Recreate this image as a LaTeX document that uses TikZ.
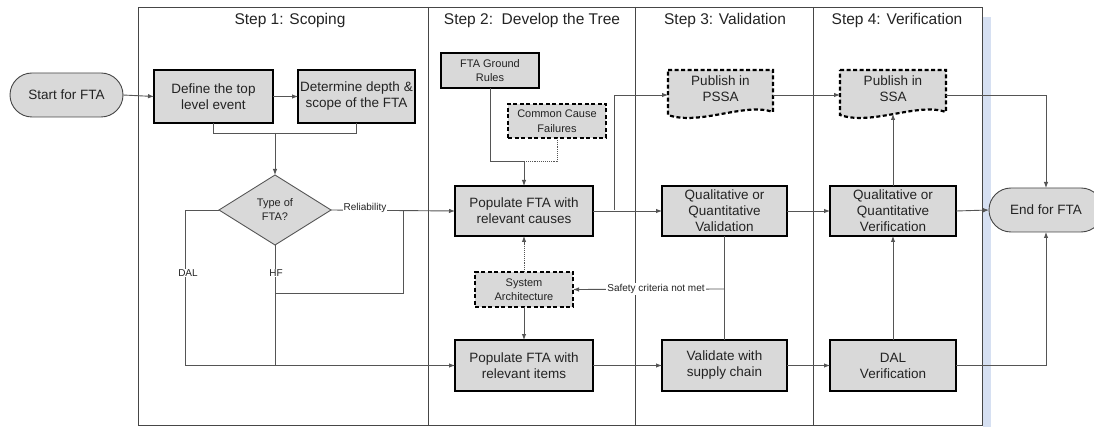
\documentclass[tikz,border=0pt]{standalone}
\usepackage{fontspec}
\setmainfont{Liberation Sans}
\usetikzlibrary{arrows.meta,shapes.geometric,shapes.misc,backgrounds}
\definecolor{boxgray}{RGB}{217,217,217}
\definecolor{lgray}{RGB}{85,85,85}
\definecolor{framegray}{RGB}{70,70,70}
\definecolor{txt}{RGB}{35,35,35}
\definecolor{stripblue}{RGB}{214,224,242}
\begin{document}
\begin{tikzpicture}[x=1pt,y=-1pt,
  box/.style={draw=black, line width=2.2pt, fill=boxgray, align=center, inner sep=0pt, outer sep=0pt, text=txt, font=\fontsize{13.5}{16}\selectfont},
  sbox/.style={box, font=\fontsize{11}{14.5}\selectfont},
  dbox/.style={sbox, dash pattern=on 4pt off 2.5pt},
  doctext/.style={draw=none, fill=none, align=center, inner sep=0pt, outer sep=0pt, text=txt, font=\fontsize{13.5}{16}\selectfont},
  docline/.style={draw=black, line width=2.2pt, fill=boxgray, dash pattern=on 4pt off 2.5pt},
  term/.style={rounded rectangle, draw=framegray, line width=0.9pt, fill=boxgray, inner sep=0pt, outer sep=0pt, minimum height=44pt, text=txt, font=\fontsize{13.5}{16}\selectfont},
  diam/.style={diamond, draw=lgray, line width=0.9pt, fill=boxgray, inner sep=0pt, outer sep=0pt, minimum width=112pt, minimum height=70pt, align=center, text=txt, font=\fontsize{11}{14}\selectfont},
  ln/.style={draw=lgray, line width=0.9pt},
  arr/.style={ln, -{Latex[length=6pt,width=4.5pt]}},
  lbl/.style={fill=white, inner sep=1pt, text=txt, font=\fontsize{10}{12}\selectfont},
  steptitle/.style={text=txt, inner sep=0pt, font=\fontsize{15.5}{18}\selectfont}
]
\clip (0,0) rectangle (1094,427);
% shadow strip and frame
\fill[stripblue] (983,17) rectangle (991,427);
\draw[framegray, line width=0.9pt] (138,7) rectangle (982,425);
\draw[framegray, line width=0.9pt] (428,7) -- (428,425);
\draw[framegray, line width=0.9pt] (635,7) -- (635,425);
\draw[framegray, line width=0.9pt] (813,7) -- (813,425);
% titles
\node[steptitle] (t1) at (290,20) {Step 1: Scoping};
\node[steptitle] (t2) at (532,20) {Step 2:\ \ Develop the Tree};
\node[steptitle] (t3) at (725,20) {Step 3: Validation};
\node[steptitle] (t4) at (897,20) {Step 4: Verification};
% nodes
\node[term, minimum width=113pt] (start) at (66.5,95) {Start for FTA};
\node[box, minimum width=119pt, minimum height=53pt] (define) at (213.5,96.5) {Define the top\\level event};
\node[box, minimum width=117pt, minimum height=53pt] (determine) at (356.5,96.5) {Determine depth \&\\scope of the FTA};
\node[diam] (type) at (275,210) {Type of\\FTA?};
\node[sbox, minimum width=98pt, minimum height=35pt] (gr) at (490,70.5) {FTA Ground\\Rules};
\node[dbox, minimum width=98pt, minimum height=34pt] (ccf) at (557,121) {Common Cause\\Failures};
\node[box, minimum width=138pt, minimum height=50pt] (popcauses) at (524,211) {Populate FTA with\\relevant causes};
\node[dbox, minimum width=98pt, minimum height=35pt] (sys) at (524,289.5) {System\\Architecture};
\node[box, minimum width=138pt, minimum height=51pt] (popitems) at (524,365.5) {Populate FTA with\\relevant items};
\node[doctext, minimum width=105pt, minimum height=38pt] (pssa) at (720.5,89) {Publish in\\PSSA};
\node[box, minimum width=125pt, minimum height=50pt] (qualval) at (724.5,211) {Qualitative or\\Quantitative\\Validation};
\node[box, minimum width=125pt, minimum height=51pt] (validate) at (724.5,365.5) {Validate with\\supply chain};
\node[doctext, minimum width=106pt, minimum height=38pt] (ssa) at (893,89) {Publish in\\SSA};
\node[box, minimum width=126pt, minimum height=50pt] (qualver) at (893,211) {Qualitative or\\Quantitative\\Verification};
\node[box, minimum width=126pt, minimum height=51pt] (dalver) at (893,365.5) {DAL\\Verification};
\node[term, minimum width=114pt] (end) at (1046,210) {End for FTA};
% document outlines
\begin{scope}[on background layer]
\draw[docline] (pssa.north west) -- (pssa.north east) -- ([yshift=-4pt]pssa.south east)
  .. controls +(-28,-10) and +(32,11) .. ([yshift=-7pt]pssa.south west) -- cycle;
\draw[docline] (ssa.north west) -- (ssa.north east) -- ([yshift=-4pt]ssa.south east)
  .. controls +(-28,-10) and +(32,11) .. ([yshift=-7pt]ssa.south west) -- cycle;
\end{scope}
% coordinates
\coordinate (j1) at (275,133);
\coordinate (j2) at (524,161);
\coordinate (j3) at (724.5,289);
\coordinate (jr) at (403,210);
\coordinate (jh) at (275,293);
\coordinate (jp) at (614,210);
\coordinate (ssab) at (893,114);
% connectors
\draw[arr] (start.east) -- (define.west);
\draw[arr] (define.east) -- (determine.west);
\draw[ln] (define.south) -- ++(0,10) -| (determine.south);
\draw[arr] (j1) -- (type.north);
\draw[arr] (type.east) -- (popcauses.west);
\draw[ln] (type.south) -- (type.south |- popitems.west);
\draw[ln] (jh) -| (jr);
\draw[arr] (type.west) -- (185,210) -- (185,365.5) -- (popitems.west);
\draw[ln] (gr.south) |- (j2);
\draw[ln, densely dotted] (ccf.south) |- (j2);
\draw[arr] (j2) -- (popcauses.north);
\draw[arr, densely dotted] (sys.north) -- (popcauses.south);
\draw[arr] (sys.south) -- (popitems.north);
\draw[arr] (popcauses.east) -- (qualval.west);
\draw[arr] (jp) |- ([yshift=-6pt]pssa.west);
\draw[arr] (popitems.east) -- (validate.west);
\draw[ln] (qualval.south) -- (validate.north);
\draw[arr] (j3) -- (sys.east);
\draw[arr] ([yshift=-6pt]pssa.east) -- ([yshift=-6pt]ssa.west);
\draw[arr] (qualval.east) -- (qualver.west);
\draw[arr] (validate.east) -- (dalver.west);
\draw[arr] (dalver.north) -- (qualver.south);
\draw[arr] (qualver.north) -- (ssab);
\draw[arr] ([yshift=-6pt]ssa.east) -| (end.north);
\draw[arr] (qualver.east) -- (end.west);
\draw[arr] (dalver.east) -| (end.south);
% labels
\node[lbl] (lrel) at (365,208) {Reliability};
\node[lbl] (ldal) at (188,273) {DAL};
\node[lbl] (lhf) at (276,273) {HF};
\node[lbl] (lsafe) at (656,289) {Safety criteria not met};
\end{tikzpicture}
\end{document}
